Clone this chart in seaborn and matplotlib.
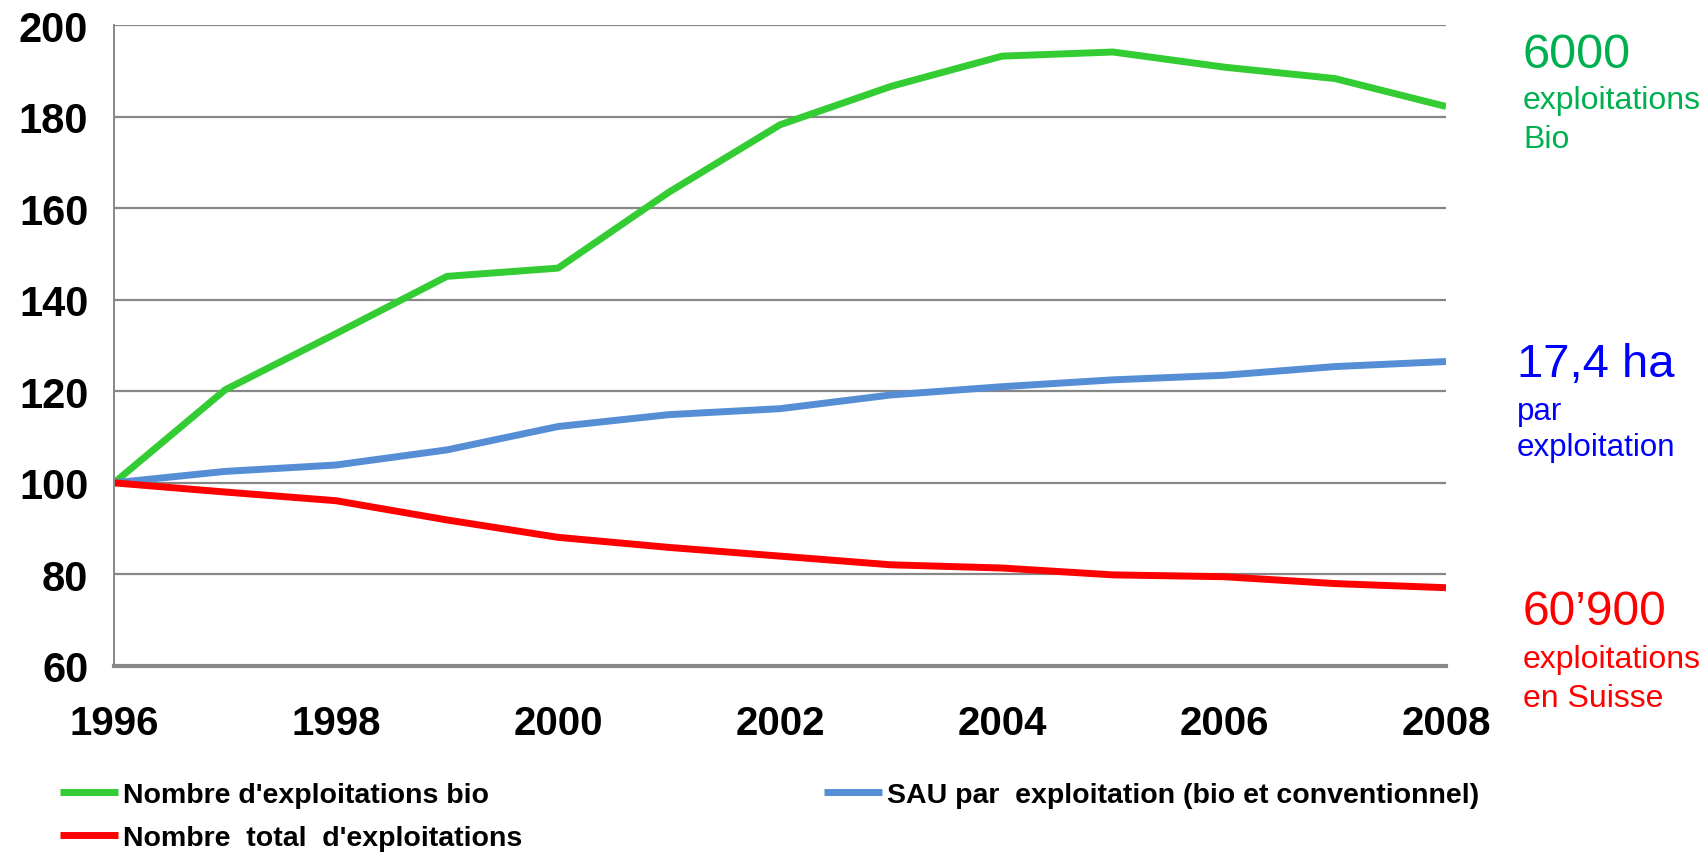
import numpy as np
import pandas as pd
import matplotlib
matplotlib.use('Agg')
import matplotlib.pyplot as plt
from matplotlib.ticker import MultipleLocator
import seaborn as sns

# index 1996 = 100
years = list(range(1996, 2009))
bio = [100, 120.3, 132.6, 145.1, 146.9, 163.5, 178.2, 186.6, 193.2, 194.1, 190.8, 188.3, 182.2]
sau = [100, 102.5, 103.9, 107.2, 112.3, 114.9, 116.2, 119.2, 121.0, 122.5, 123.5, 125.4, 126.5]
total = [100, 98.0, 96.1, 91.9, 88.1, 85.9, 84.0, 82.1, 81.4, 79.9, 79.5, 78.0, 77.1]
labels = ["Nombre d'exploitations bio",
          "SAU par  exploitation (bio et conventionnel)",
          "Nombre  total  d'exploitations"]
colors = ['#33CC33', '#558ED5', '#FF0000']

df = pd.DataFrame({'annee': years * 3,
                   'indice': bio + sau + total,
                   'serie': [labels[0]] * 13 + [labels[1]] * 13 + [labels[2]] * 13})

sns.set_style('white')
plt.rcParams['font.family'] = ['Liberation Sans', 'DejaVu Sans']
plt.rcParams['text.color'] = 'black'

fig = plt.figure(figsize=(17.06, 8.54), dpi=100)
ax = fig.add_axes([114 / 1706, 1 - 667 / 854, (1446 - 114) / 1706, (667 - 26) / 854])

sns.lineplot(data=df, x='annee', y='indice', hue='serie',
             palette=dict(zip(labels, colors)), linewidth=5, ax=ax, legend=False)
for ln in ax.lines:
    ln.set_solid_capstyle('butt')
    ln.set_solid_joinstyle('round')

ax.set_xlim(1996, 2008)
ax.set_ylim(60, 200)
ax.xaxis.set_major_locator(MultipleLocator(2))
ax.xaxis.set_minor_locator(MultipleLocator(1))
ax.yaxis.set_major_locator(MultipleLocator(20))
ax.set_xlabel('')
ax.set_ylabel('')

grey = '#878787'
ax.yaxis.grid(True, color=grey, lw=1.6)
ax.set_axisbelow(True)
for s in ['top', 'right']:
    ax.spines[s].set_visible(False)
ax.spines['left'].set_color(grey)
ax.spines['left'].set_linewidth(1.4)
ax.spines['bottom'].set_color(grey)
ax.spines['bottom'].set_linewidth(3)

ax.tick_params(axis='x', which='both', direction='out', length=8.6, width=1.2,
               color=grey, pad=19, labelsize=29, labelcolor='black')
ax.tick_params(axis='y', which='major', direction='out', length=6.5, width=1.2,
               color=grey, pad=12, labelsize=30, labelcolor='black')
for t in ax.get_xticklabels() + ax.get_yticklabels():
    t.set_fontweight('bold')

# legend in two blocks
h = ax.lines
leg_kw = dict(frameon=False, handlelength=2.05, handletextpad=0.15,
              labelspacing=0.6, borderpad=0, borderaxespad=0,
              labelcolor='black', prop={'weight': 'bold', 'size': 20.5})
fig.legend([h[0], h[2]], [labels[0], labels[2]], loc='upper left',
           bbox_to_anchor=(60 / 1706, 1 - 783 / 854), **leg_kw)
fig.legend([h[1]], [labels[1]], loc='upper left',
           bbox_to_anchor=(824 / 1706, 1 - 783 / 854), **leg_kw)

# annotations at right
fig.text(1523 / 1706, 1 - 68 / 854, '6000', color='#00B050', fontsize=35, va='baseline')
fig.text(1523 / 1706, 1 - 109 / 854, 'exploitations', color='#00B050', fontsize=23, va='baseline')
fig.text(1523 / 1706, 1 - 148 / 854, 'Bio', color='#00B050', fontsize=23, va='baseline')

fig.text(1517 / 1706, 1 - 377 / 854, '17,4 ha', color='#0000FF', fontsize=34, va='baseline')
fig.text(1517 / 1706, 1 - 420 / 854, 'par', color='#0000FF', fontsize=22.5, va='baseline')
fig.text(1517 / 1706, 1 - 456 / 854, 'exploitation', color='#0000FF', fontsize=22.5, va='baseline')

fig.text(1523 / 1706, 1 - 625 / 854, '60\u2019900', color='#FF0000', fontsize=34.5, va='baseline')
fig.text(1523 / 1706, 1 - 668 / 854, 'exploitations', color='#FF0000', fontsize=23, va='baseline')
fig.text(1523 / 1706, 1 - 707 / 854, 'en Suisse', color='#FF0000', fontsize=23, va='baseline')

plt.savefig('out.png', dpi=100)
